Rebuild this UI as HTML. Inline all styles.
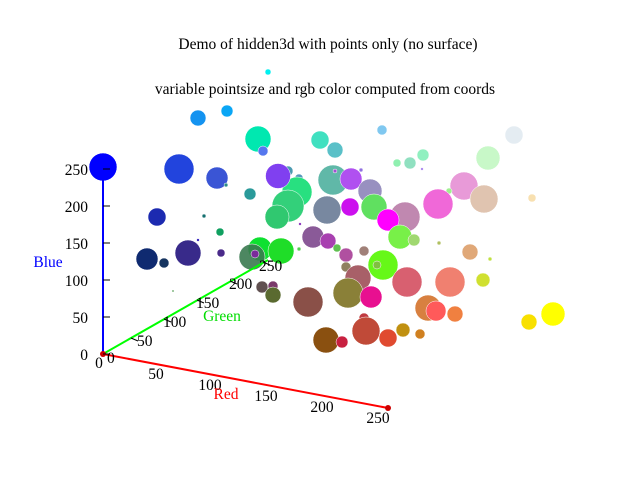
<!DOCTYPE html>
<html><head><meta charset="utf-8"><style>body{margin:0;background:#fff}svg{display:block}text{font-family:"Liberation Serif",serif;font-size:15.5px}</style></head><body>
<svg width="640" height="480" viewBox="0 0 640 480">
<text x="328" y="49" text-anchor="middle">Demo of hidden3d with points only (no surface)</text>
<text x="325" y="94" text-anchor="middle">variable pointsize and rgb color computed from coords</text>
<g stroke="#fff" stroke-width="0.5">
<circle cx="268" cy="72" r="3" fill="#00f0f0"/>
<circle cx="198" cy="118" r="8" fill="#1493f0"/>
<circle cx="227" cy="111" r="6" fill="#0aa6f5"/>
<circle cx="382" cy="130" r="5" fill="#80c8f0"/>
<circle cx="514" cy="135" r="9" fill="#e4ecf2"/>
<circle cx="320" cy="140" r="9" fill="#40e0c0"/>
<circle cx="335" cy="150" r="8" fill="#5ac0c8"/>
<circle cx="258" cy="139" r="13" fill="#00e8b0"/>
<circle cx="263" cy="151" r="5" fill="#5577ee"/>
<circle cx="488" cy="158" r="12" fill="#c8f8c8"/>
<circle cx="423" cy="155" r="6" fill="#90f0c0"/>
<circle cx="410" cy="163" r="6" fill="#90e0c0"/>
<circle cx="397" cy="163" r="4" fill="#90f0b0"/>
<circle cx="422" cy="169" r="1.5" fill="#b090f0"/>
<circle cx="361" cy="170" r="2" fill="#9070e0"/>
<circle cx="179" cy="169" r="15" fill="#2244dd"/>
<circle cx="217" cy="178" r="11" fill="#3a55d5"/>
<circle cx="226" cy="185" r="2" fill="#2a8a8a"/>
<circle cx="288" cy="171" r="5" fill="#4a9ab0"/>
<circle cx="299" cy="178" r="4" fill="#5599bb"/>
<circle cx="333" cy="180" r="15" fill="#60b8a8"/>
<circle cx="335" cy="171" r="2" fill="#a050d0"/>
<circle cx="351" cy="179" r="11" fill="#b050f0"/>
<circle cx="464" cy="186" r="14" fill="#e89ad8"/>
<circle cx="449" cy="191" r="3" fill="#a0f090"/>
<circle cx="484" cy="199" r="14" fill="#e0c4b0"/>
<circle cx="532" cy="198" r="4" fill="#f8e0b0"/>
<circle cx="370" cy="191" r="12" fill="#9890c0"/>
<circle cx="250" cy="194" r="6" fill="#2a9a9a"/>
<circle cx="297" cy="192" r="15" fill="#28e080"/>
<circle cx="278" cy="176" r="12.5" fill="#8040f0"/>
<circle cx="288" cy="206" r="16" fill="#33d07a"/>
<circle cx="277" cy="217" r="12" fill="#30c870"/>
<circle cx="374" cy="207" r="13" fill="#60e060"/>
<circle cx="327" cy="210" r="14" fill="#7888a0"/>
<circle cx="350" cy="207" r="9" fill="#cc10ee"/>
<circle cx="438" cy="204" r="15" fill="#f068d8"/>
<circle cx="405" cy="217" r="15" fill="#c088b0"/>
<circle cx="388" cy="220" r="11" fill="#ff00ff"/>
<circle cx="157" cy="217" r="9" fill="#1c2ab0"/>
<circle cx="204" cy="216" r="2" fill="#157070"/>
<circle cx="220" cy="232" r="4" fill="#10a060"/>
<circle cx="198" cy="240" r="1.5" fill="#4030c0"/>
<circle cx="300" cy="224" r="1.5" fill="#9040c0"/>
<circle cx="313" cy="237" r="11" fill="#8a5a98"/>
<circle cx="328" cy="241" r="8" fill="#a840b0"/>
<circle cx="337" cy="248" r="4" fill="#60c050"/>
<circle cx="400" cy="237" r="12" fill="#78f048"/>
<circle cx="414" cy="240" r="6" fill="#a0d870"/>
<circle cx="439" cy="243" r="2" fill="#b0c060"/>
<circle cx="470" cy="252" r="8" fill="#e0a878"/>
<circle cx="490" cy="259" r="2" fill="#c0e040"/>
<circle cx="188" cy="253" r="13" fill="#382a8a"/>
<circle cx="147" cy="259" r="11" fill="#0f2a70"/>
<circle cx="164" cy="263" r="5" fill="#163460"/>
<circle cx="221" cy="253" r="4" fill="#4a2a8a"/>
<circle cx="260" cy="249" r="12" fill="#0ee030"/>
<circle cx="281" cy="251" r="13" fill="#1fdd28"/>
<circle cx="299" cy="249" r="2" fill="#50d050"/>
<circle cx="252" cy="257" r="13" fill="#3a7a50" fill-opacity="0.9"/>
<circle cx="255" cy="254" r="4" fill="#7a2a9a"/>
<circle cx="346" cy="255" r="7" fill="#b050a0"/>
<circle cx="364" cy="251" r="5" fill="#a08078"/>
<circle cx="383" cy="265" r="15" fill="#66f818"/>
<circle cx="377" cy="265" r="4" fill="#80c040"/>
<circle cx="346" cy="267" r="5" fill="#908060"/>
<circle cx="358" cy="278" r="13" fill="#a86068"/>
<circle cx="407" cy="282" r="15" fill="#d86070"/>
<circle cx="450" cy="282" r="15" fill="#f08070"/>
<circle cx="483" cy="280" r="7" fill="#d0e030"/>
<circle cx="173" cy="291" r="1" fill="#208020"/>
<circle cx="262" cy="287" r="6" fill="#605050"/>
<circle cx="273" cy="286" r="5" fill="#7a3a6a"/>
<circle cx="273" cy="295" r="8" fill="#5a6a30"/>
<circle cx="348" cy="293" r="15" fill="#8a8038"/>
<circle cx="371" cy="297" r="11" fill="#e81090"/>
<circle cx="308" cy="302" r="15" fill="#8a5048"/>
<circle cx="428" cy="308" r="13" fill="#d88040"/>
<circle cx="436" cy="311" r="10" fill="#ff5a5a"/>
<circle cx="455" cy="314" r="8" fill="#f08040"/>
<circle cx="553" cy="314" r="12" fill="#ffff00"/>
<circle cx="529" cy="322" r="8" fill="#f8e000"/>
<circle cx="364" cy="318" r="5" fill="#c03a40"/>
<circle cx="366" cy="331" r="14" fill="#c04a38"/>
<circle cx="388" cy="338" r="9" fill="#e04a30"/>
<circle cx="403" cy="330" r="7" fill="#c09010"/>
<circle cx="420" cy="334" r="5" fill="#d08020"/>
<circle cx="326" cy="340" r="13" fill="#8a5010"/>
<circle cx="342" cy="342" r="6" fill="#c82040"/>
<circle cx="103" cy="167" r="14" fill="#0000ff"/>
</g>
<g stroke-width="2">
<line x1="103" y1="354" x2="103" y2="167" stroke="#0000ff"/>
<line x1="103" y1="354" x2="268" y2="260" stroke="#00ff00"/>
<line x1="103" y1="354" x2="388" y2="408" stroke="#ff0000"/>
</g>
<circle cx="103" cy="354" r="3" fill="#cc0000"/>
<circle cx="388" cy="408" r="3" fill="#cc0000"/>
<g stroke="#000" stroke-width="1">
<line x1="103" y1="354" x2="110" y2="354"/><line x1="103" y1="317" x2="110" y2="317"/><line x1="103" y1="280" x2="110" y2="280"/><line x1="103" y1="243" x2="110" y2="243"/><line x1="103" y1="206" x2="110" y2="206"/><line x1="103" y1="169" x2="110" y2="169"/>
<line x1="131" y1="338" x2="138" y2="341"/><line x1="164" y1="319" x2="171" y2="322"/><line x1="197" y1="300" x2="204" y2="303"/><line x1="230" y1="281" x2="237" y2="284"/><line x1="263" y1="262" x2="270" y2="265"/>
</g>
<g text-anchor="end">
<text x="88" y="360">0</text><text x="88" y="323">50</text><text x="88" y="286">100</text><text x="88" y="249">150</text><text x="88" y="212">200</text><text x="88" y="175">250</text>
</g>
<g>
<text x="107" y="363">0</text><text x="137" y="346">50</text><text x="163" y="327">100</text><text x="196" y="308">150</text><text x="229" y="289">200</text><text x="259" y="271">250</text>
</g>
<g text-anchor="middle">
<text x="99" y="368">0</text><text x="156" y="379">50</text><text x="210" y="390">100</text><text x="266" y="401">150</text><text x="322" y="412">200</text><text x="378" y="423">250</text>
</g>
<text x="226" y="399" text-anchor="middle" fill="#ff0000">Red</text>
<text x="222" y="321" text-anchor="middle" fill="#00dd00">Green</text>
<text x="48" y="267" text-anchor="middle" fill="#0000ff">Blue</text>
</svg>
</body></html>
